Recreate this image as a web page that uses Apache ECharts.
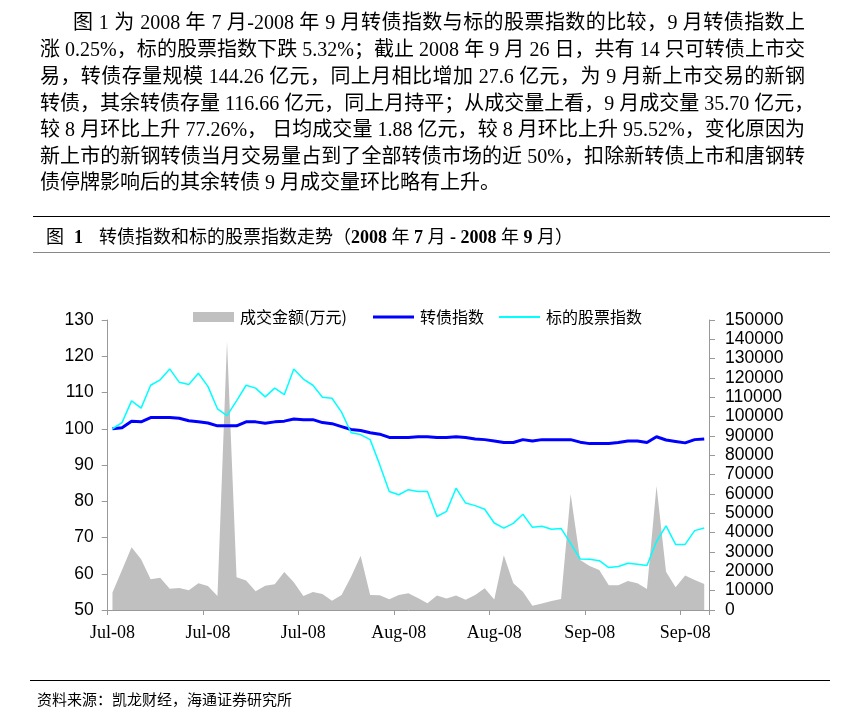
<!DOCTYPE html>
<html><head><meta charset="utf-8">
<script src="https://cdn.jsdelivr.net/npm/echarts@6/dist/echarts.min.js"></script>
<style>
body{margin:0;background:#fff;}
#page{position:relative;width:861px;height:721px;overflow:hidden;background:#fff;}
#chart{position:absolute;left:0;top:0;width:861px;height:721px;}
.ln{position:absolute;height:27px;line-height:27px;font-size:20px;font-family:"Liberation Serif","Noto Sans CJK SC",serif;color:#000;white-space:nowrap;text-align:justify;text-align-last:justify;}
.rule{position:absolute;height:0;}
</style></head>
<body><div id="page">
<div id="chart"></div>
<div class="ln" style="left:73px;top:9px;width:732px;">图 1 为 2008 年 7 月-2008 年 9 月转债指数与标的股票指数的比较，9 月转债指数上</div>
<div class="ln" style="left:40px;top:36px;width:765px;">涨 0.25%，标的股票指数下跌 5.32%；截止 2008 年 9 月 26 日，共有 14 只可转债上市交</div>
<div class="ln" style="left:40px;top:63px;width:765px;">易，转债存量规模 144.26 亿元，同上月相比增加 27.6 亿元，为 9 月新上市交易的新钢</div>
<div class="ln" style="left:40px;top:90px;width:765px;">转债，其余转债存量 116.66 亿元，同上月持平；从成交量上看，9 月成交量 35.70 亿元，</div>
<div class="ln" style="left:40px;top:116px;width:765px;">较 8 月环比上升 77.26%， 日均成交量 1.88 亿元，较 8 月环比上升 95.52%，变化原因为</div>
<div class="ln" style="left:40px;top:143px;width:765px;">新上市的新钢转债当月交易量占到了全部转债市场的近 50%，扣除新转债上市和唐钢转</div>
<div class="ln" style="left:40px;top:169px;width:765px;text-align:left;text-align-last:left;">债停牌影响后的其余转债 9 月成交量环比略有上升。</div>
<div class="rule" style="left:33px;top:216px;width:797px;border-top:1.5px solid #000;"></div>
<div style="position:absolute;left:46px;top:226px;height:22px;line-height:22px;font-size:18px;font-family:'Liberation Serif','Noto Sans CJK SC',serif;white-space:nowrap;">图<span style="display:inline-block;width:10px"></span><b>1</b><span style="display:inline-block;width:16px"></span>转债指数和标的股票指数走势（<b>2008</b> 年 <b>7</b> 月 <b>-</b> <b>2008</b> 年 <b>9</b> 月）</div>
<div class="rule" style="left:33px;top:252px;width:797px;border-top:1px solid #888;"></div>
<div class="rule" style="left:30px;top:680px;width:800px;border-top:1.5px solid #000;"></div>
<div style="position:absolute;left:37px;top:689px;height:20px;line-height:20px;font-size:15px;font-family:'Noto Sans CJK SC',sans-serif;white-space:nowrap;">资料来源：凯龙财经，海通证券研究所</div>
</div>
<script>
var dates = [
 '2008-07-01','2008-07-02','2008-07-03','2008-07-04','2008-07-07','2008-07-08','2008-07-09','2008-07-10','2008-07-11',
 '2008-07-14','2008-07-15','2008-07-16','2008-07-17','2008-07-18','2008-07-21','2008-07-22','2008-07-23','2008-07-24','2008-07-25',
 '2008-07-28','2008-07-29','2008-07-30','2008-07-31',
 '2008-08-01','2008-08-04','2008-08-05','2008-08-06','2008-08-07','2008-08-08','2008-08-11','2008-08-12','2008-08-13','2008-08-14',
 '2008-08-15','2008-08-18','2008-08-19','2008-08-20','2008-08-21','2008-08-22','2008-08-25','2008-08-26','2008-08-27','2008-08-28','2008-08-29',
 '2008-09-01','2008-09-02','2008-09-03','2008-09-04','2008-09-05','2008-09-08','2008-09-09','2008-09-10','2008-09-11','2008-09-12',
 '2008-09-16','2008-09-17','2008-09-18','2008-09-19','2008-09-22','2008-09-23','2008-09-24','2008-09-25','2008-09-26'
];
var volume = [
 9000,20700,32400,26200,15900,16700,11000,11400,10200,13800,
 12400,7200,139000,16900,15200,9700,12600,13300,19700,14300,
 7300,9300,8300,4800,7800,17200,28100,7800,7600,5500,
 7700,8600,6200,3500,7500,5900,7500,5300,7800,11200,
 5400,28300,13900,9500,2200,3400,4700,5700,60000,25900,
 22800,20700,12800,12800,15000,13800,10900,64100,19800,11800,
 17900,15500,13400
];
var cbIndex = [
 100.0,100.3,102.1,101.9,103.1,103.1,103.1,102.9,102.2,101.9,
 101.6,100.8,100.8,100.8,101.9,101.9,101.5,101.9,102.1,102.7,
 102.5,102.5,101.7,101.4,100.6,99.8,99.5,98.9,98.5,97.6,
 97.6,97.6,97.8,97.8,97.6,97.6,97.8,97.6,97.2,97.0,
 96.6,96.2,96.2,97.0,96.6,97.0,97.0,97.0,97.0,96.3,
 95.9,95.9,95.9,96.2,96.6,96.6,96.2,97.8,96.9,96.5,
 96.1,97.0,97.2
];
var stockIndex = [
 100.0,101.7,107.7,105.7,112.0,113.5,116.5,112.8,112.2,115.3,
 111.7,105.5,103.6,107.7,112.0,111.2,108.8,111.2,109.4,116.5,
 113.7,112.0,108.7,108.4,104.6,98.9,98.4,97.0,90.1,82.7,
 81.8,83.2,82.7,82.7,75.8,77.2,83.6,79.5,78.8,77.8,
 74.0,72.6,73.9,76.4,72.8,73.1,72.3,72.5,68.4,64.1,
 64.0,63.6,61.7,62.0,62.9,62.6,62.3,68.9,73.2,68.1,
 68.1,71.9,72.6
];
var seriesNames = ['成交金额(万元)','转债指数','标的股票指数'];
var monthNames = ['Jan','Feb','Mar','Apr','May','Jun','Jul','Aug','Sep','Oct','Nov','Dec'];

var chart = echarts.init(document.getElementById('chart'), null, {renderer:'canvas'});
var cjk = '"Noto Sans CJK SC", sans-serif';
function legendAt(left, name, h){
  return {
    orient:'horizontal', left:left, top:309, padding:0, itemGap:0,
    itemWidth:41, itemHeight:h, selectedMode:false,
    textStyle:{fontFamily:cjk, fontSize:16, color:'#000', padding:[0,0,0,1]},
    data:[{name:name, icon:'rect'}]
  };
}
chart.setOption({
  animation:false,
  backgroundColor:'transparent',
  grid:{left:107.7, right:152, top:320, bottom:111, containLabel:false},
  legend:[
    legendAt(193, seriesNames[0], 10),
    legendAt(373, seriesNames[1], 3),
    legendAt(499, seriesNames[2], 2)
  ],
  xAxis:{
    type:'category', data:dates, boundaryGap:true,
    axisLine:{show:true, lineStyle:{color:'#999', width:1}},
    axisTick:{show:true, inside:false, length:5, interval:9, alignWithLabel:false, lineStyle:{color:'#999'}},
    axisLabel:{interval:9, margin:14, fontSize:18, fontFamily:'"Liberation Serif", serif', color:'#000',
      formatter:function(v){ var p=v.split('-'); return monthNames[parseInt(p[1],10)-1]+'-'+p[0].slice(2); }},
    splitLine:{show:false}
  },
  yAxis:[
    {type:'value', min:50, max:130, interval:10, position:'left',
     axisLine:{show:true, lineStyle:{color:'#999'}},
     axisTick:{show:true, inside:false, length:6, lineStyle:{color:'#999'}},
     axisLabel:{margin:14, fontSize:17.5, fontFamily:'"Liberation Sans", Arial, sans-serif', color:'#000'},
     splitLine:{show:false}},
    {type:'value', min:0, max:150000, interval:10000, position:'right',
     axisLine:{show:true, lineStyle:{color:'#999'}},
     axisTick:{show:true, inside:false, length:6, lineStyle:{color:'#999'}},
     axisLabel:{margin:16, fontSize:17.5, fontFamily:'"Liberation Sans", Arial, sans-serif', color:'#000',
       formatter:function(v){ return String(v); }},
     splitLine:{show:false}}
  ],
  series:[
    {name:seriesNames[0], type:'line', yAxisIndex:1, data:volume, symbol:'none',
     lineStyle:{width:0, color:'#c0c0c0'}, itemStyle:{color:'#c0c0c0'},
     areaStyle:{color:'#c0c0c0', opacity:1}, z:1},
    {name:seriesNames[1], type:'line', yAxisIndex:0, data:cbIndex, symbol:'none',
     lineStyle:{width:3, color:'#0000ff'}, itemStyle:{color:'#0000ff'}, z:2},
    {name:seriesNames[2], type:'line', yAxisIndex:0, data:stockIndex, symbol:'none',
     lineStyle:{width:1.5, color:'#00ffff'}, itemStyle:{color:'#00ffff'}, z:3}
  ]
});
</script>
</body></html>
